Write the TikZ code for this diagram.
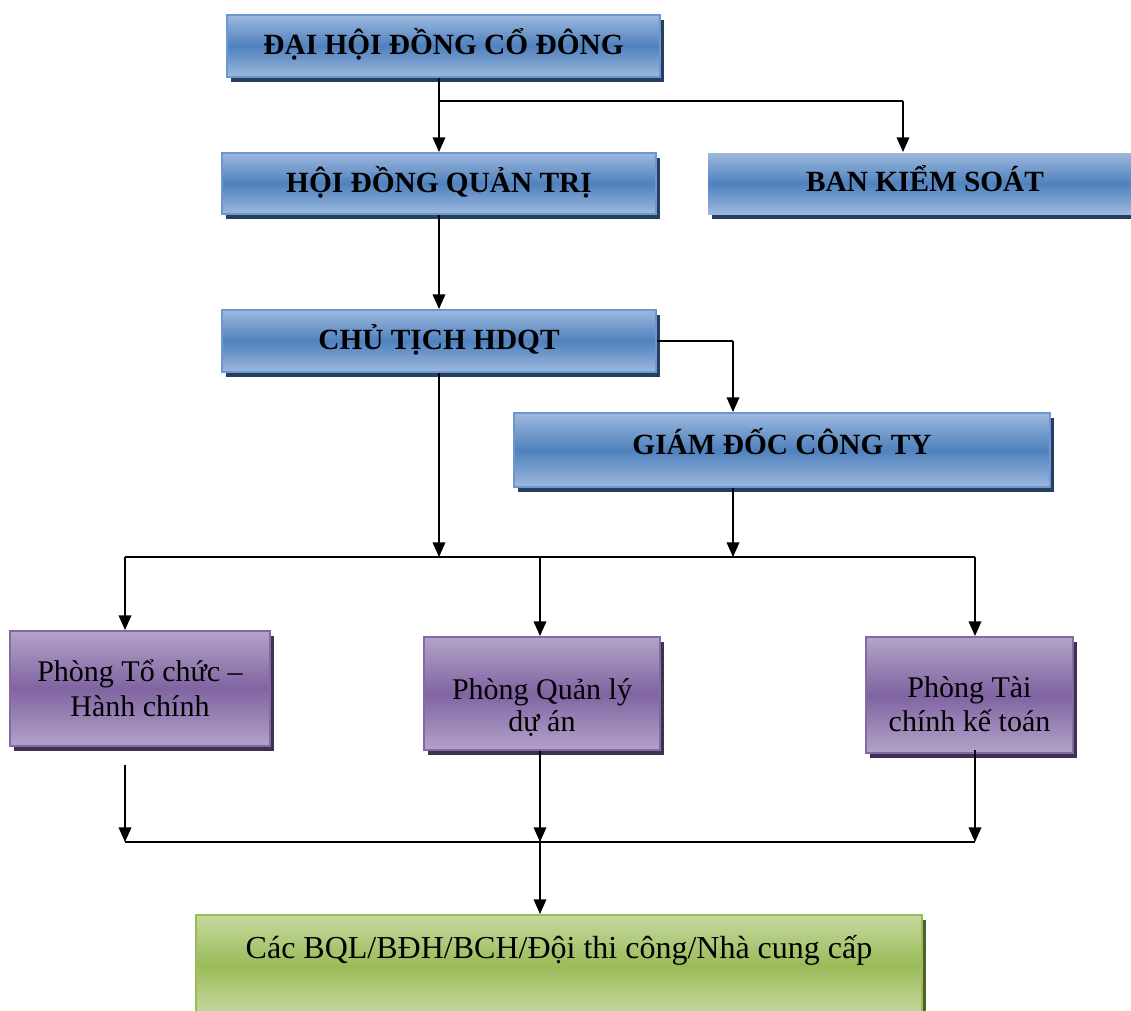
\documentclass[tikz,border=0pt]{standalone}
\usepackage{fontspec}
\setmainfont{Liberation Serif}
\usetikzlibrary{arrows.meta,shadows}
\definecolor{bluelight}{HTML}{9DB9DE}
\definecolor{bluemid}{HTML}{4F81BD}
\definecolor{blueedge}{HTML}{6C98CF}
\definecolor{blueshadow}{HTML}{243F60}
\definecolor{purplelight}{HTML}{B3A3C8}
\definecolor{purplemid}{HTML}{8064A2}
\definecolor{purpleedge}{HTML}{8469A6}
\definecolor{purpleshadow}{HTML}{3F3151}
\definecolor{greenlight}{HTML}{C6D9A0}
\definecolor{greenmid}{HTML}{9BBB59}
\definecolor{greenedge}{HTML}{9BBB59}
\definecolor{greenshadow}{HTML}{4F6228}
\tikzset{
  box/.style={rectangle, inner sep=0pt, align=center, line width=1.5pt},
  bluebox/.style={box, draw=blueedge, top color=bluelight, bottom color=bluelight, middle color=bluemid,
    font=\fontsize{22}{26}\selectfont\bfseries, text height=15.1pt, text depth=2pt,
    drop shadow={shadow xshift=3pt, shadow yshift=-4pt, fill=blueshadow, opacity=1}},
  purplebox/.style={box, draw=purpleedge, top color=purplelight, bottom color=purplelight, middle color=purplemid,
    drop shadow={shadow xshift=3pt, shadow yshift=-4pt, fill=purpleshadow, opacity=1}},
  purpletext/.style={align=center, inner sep=0pt},
  greenbox/.style={box, draw=greenedge, top color=greenlight, bottom color=greenlight, middle color=greenmid,
    font=\fontsize{24}{28}\selectfont,
    drop shadow={shadow xshift=3pt, shadow yshift=-4pt, fill=greenshadow, opacity=1}},
  conn/.style={line width=1.1pt, -{Triangle[length=11pt,width=9.5pt]}},
  plain/.style={line width=1.1pt},
}
\begin{document}
\begin{tikzpicture}[x=0.75pt,y=-0.75pt]
\useasboundingbox (0,0) rectangle (1131,1010);
% boxes
\node[bluebox, minimum width=324.75pt, minimum height=46.5pt] (dh) at (443.5,46) {ĐẠI HỘI ĐỒNG CỔ ĐÔNG};
\node[bluebox, minimum width=325.5pt, minimum height=45.75pt] (hdqt) at (439,183.5) {HỘI ĐỒNG QUẢN TRỊ};
\node[bluebox, draw=none, text height=13.6pt, minimum width=325.5pt, minimum height=45.75pt] (bks) at (925,183.5) {BAN KIỂM SOÁT};
\node[bluebox, minimum width=325.5pt, minimum height=46.5pt] (ct) at (439,341) {CHỦ TỊCH HDQT};
\node[bluebox, text height=9.1pt, minimum width=402pt, minimum height=55.5pt] (gd) at (782,450) {GIÁM ĐỐC CÔNG TY};
\node[purplebox, minimum width=195pt, minimum height=86.25pt,
  label={[purpletext, font=\fontsize{22.5}{26}\selectfont, yshift=0pt]center:Phòng Tổ chức –\\Hành chính}] (p1) at (140,688.5) {};
\node[purplebox, minimum width=177pt, minimum height=84.75pt,
  label={[purpletext, font=\fontsize{22.5}{23.5}\selectfont, yshift=-10.5pt]center:Phòng Quản lý\\dự án}] (p2) at (542,693.5) {};
\node[purplebox, minimum width=155.25pt, minimum height=87pt,
  label={[purpletext, font=\fontsize{22.5}{25}\selectfont, yshift=-7pt]center:Phòng Tài\\chính kế toán}] (p3) at (969.5,695) {};
\node[greenbox, minimum width=544.5pt, text height=32.25pt, text depth=42.75pt] (grn) at (559,965) {Các BQL/BĐH/BCH/Đội thi công/Nhà cung cấp};
% junction coordinates
\coordinate (j1) at (439,101);
\coordinate (k1) at (903,101);
\coordinate (c1) at (733,341);
\coordinate (busL) at (125,557);
\coordinate (busM) at (540,557);
\coordinate (busR) at (975,557);
\coordinate (botL) at (125,842);
\coordinate (botM) at (540,842);
\coordinate (botR) at (975,842);
\coordinate (p1out) at (125,765);
\coordinate (p3out) at (975,750);
% connectors
\draw[conn] (dh.south -| hdqt.north) -- (hdqt.north);
\draw[plain] (j1) -- (k1);
\draw[conn] (k1) -- (k1 |- bks.north);
\draw[conn] (hdqt.south) -- (ct.north);
\draw[plain] (ct.east) -- (c1);
\draw[conn] (c1) -- (c1 |- gd.north);
\draw[conn] (ct.south) -- (ct.south |- busL);
\draw[conn] (gd.south -| c1) -- (c1 |- busL);
\draw[plain] (busL) -- (busR);
\draw[conn] (busL) -- (busL |- p1.north);
\draw[conn] (busM) -- (busM |- p2.north);
\draw[conn] (busR) -- (busR |- p3.north);
\draw[conn] (p1out) -- (botL);
\draw[conn] (p2.south -| botM) -- (botM);
\draw[conn] (p3out) -- (botR);
\draw[plain] (botL) -- (botR);
\draw[conn] (botM) -- (botM |- grn.north);
\end{tikzpicture}
\end{document}
